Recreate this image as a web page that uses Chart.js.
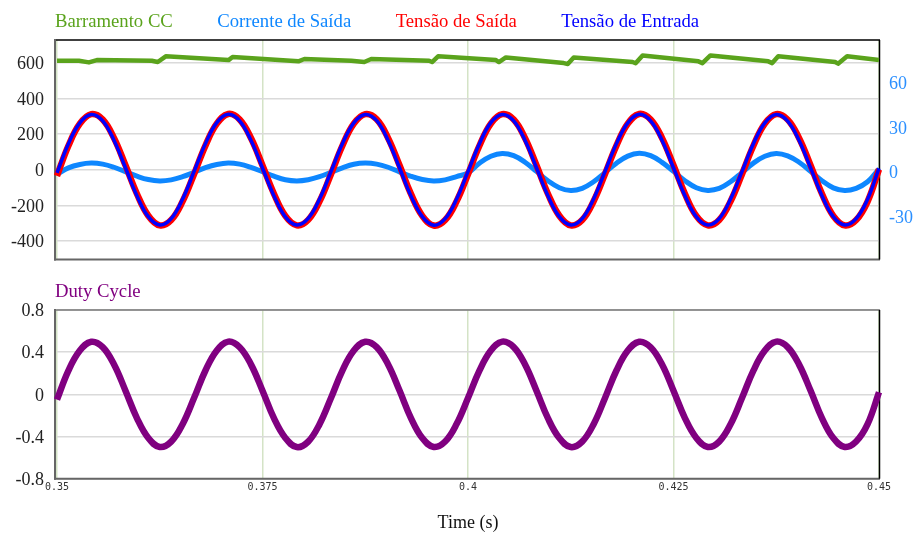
<!DOCTYPE html>
<html>
<head>
<meta charset="utf-8">
<title>Barramento CC / Duty Cycle</title>
<script src="https://cdn.jsdelivr.net/npm/chart.js"></script>
<style>
  body { margin: 0; background: #fff; }
  #wrap { position: relative; width: 917px; height: 534px; }
  canvas { position: absolute; left: 0; }
  #topChart { top: 0; }
  #bottomChart { top: 270px; }
</style>
</head>
<body>
<div id="wrap">
  <canvas id="topChart" width="917" height="270"></canvas>
  <canvas id="bottomChart" width="917" height="264"></canvas>
</div>
<script>
// sample instants (s), shared by the sine-like traces
const time = [
  0.35, 0.35139, 0.35278, 0.35417, 0.35556, 0.35694, 0.35833, 0.35972, 0.36111, 0.3625, 0.36389, 0.36528,
  0.36667, 0.36806, 0.36944, 0.37083, 0.37222, 0.37361, 0.375, 0.37639, 0.37778, 0.37917, 0.38056, 0.38194,
  0.38333, 0.38472, 0.38611, 0.3875, 0.38889, 0.39028, 0.39167, 0.39306, 0.39444, 0.39583, 0.39722, 0.39861,
  0.4, 0.40139, 0.40278, 0.40417, 0.40556, 0.40694, 0.40833, 0.40972, 0.41111, 0.4125, 0.41389, 0.41528,
  0.41667, 0.41806, 0.41944, 0.42083, 0.42222, 0.42361, 0.425, 0.42639, 0.42778, 0.42917, 0.43056, 0.43194,
  0.43333, 0.43472, 0.43611, 0.4375, 0.43889, 0.44028, 0.44167, 0.44306, 0.44444, 0.44583, 0.44722, 0.44861,
  0.45
];

// Tensão de Entrada (V)
const vin = [
  -18, 146, 264, 311, 275, 165, 11, -146, -264, -311, -275, -165,
  -11, 147, 265, 312, 275, 164, 10, -146, -265, -311, -274, -165,
  -11, 146, 264, 311, 276, 165, 11, -147, -264, -312, -275, -165,
  -11, 146, 265, 311, 275, 165, 11, -146, -264, -311, -275, -164,
  -10, 147, 264, 312, 275, 165, 11, -146, -265, -311, -275, -165,
  -11, 146, 264, 311, 274, 165, 12, -146, -264, -311, -275, -166,
  8
];

// Tensão de Saída (V)
const vout = [
  -34, 135, 259, 313, 283, 178, 25, -135, -259, -313, -283, -178,
  -25, 136, 259, 314, 283, 177, 24, -135, -260, -313, -282, -178,
  -25, 135, 259, 313, 284, 178, 25, -136, -259, -314, -283, -178,
  -25, 135, 260, 313, 283, 178, 25, -135, -259, -313, -283, -177,
  -24, 136, 259, 314, 283, 178, 25, -135, -260, -313, -283, -178,
  -25, 135, 259, 313, 282, 178, 26, -135, -259, -313, -283, -179,
  2
];

// Corrente de Saída (A), right axis
const iout = [
  -1.5, 2.8, 5.1, 6.0, 5.3, 3.2, 0.2, -2.8, -5.1, -6.0, -5.3, -3.2,
  -0.2, 2.9, 5.1, 6.1, 5.3, 3.1, 0.2, -2.8, -5.2, -6.0, -5.2, -3.2,
  -0.2, 2.8, 5.2, 6.0, 5.3, 3.2, 0.1, -2.9, -5.1, -6.1, -5.3, -3.1,
  -0.6, 5.9, 10.6, 12.5, 11.0, 6.6, 0.4, -5.9, -10.6, -12.5, -11.0, -6.6,
  -0.4, 5.9, 10.7, 12.6, 11.0, 6.5, 0.4, -5.9, -10.6, -12.4, -11.1, -6.6,
  -0.4, 6.0, 10.6, 12.5, 10.9, 6.6, 0.5, -5.9, -10.7, -12.5, -11.0, -6.6,
  2.0
];

// Duty Cycle
const duty = [
  -0.05, 0.225, 0.415, 0.499, 0.448, 0.283, 0.035, -0.225, -0.415, -0.499, -0.448, -0.283,
  -0.035, 0.226, 0.416, 0.5, 0.447, 0.282, 0.035, -0.226, -0.414, -0.5, -0.448, -0.283,
  -0.035, 0.225, 0.415, 0.499, 0.448, 0.283, 0.036, -0.225, -0.415, -0.499, -0.447, -0.282,
  -0.035, 0.225, 0.416, 0.5, 0.448, 0.283, 0.035, -0.226, -0.415, -0.5, -0.448, -0.283,
  -0.034, 0.226, 0.415, 0.499, 0.447, 0.283, 0.035, -0.225, -0.414, -0.499, -0.448, -0.284,
  -0.035, 0.225, 0.415, 0.5, 0.448, 0.282, 0.036, -0.225, -0.415, -0.499, -0.447, -0.283,
  0.02
];

// Barramento CC (V): breakpoints of the bus voltage ripple
const busTime = [
  0.35, 0.35267, 0.35388, 0.35485, 0.36153, 0.36226, 0.36323, 0.37087, 0.37136, 0.37937,
  0.3801, 0.3858, 0.38738, 0.38823, 0.39527, 0.39563, 0.39636, 0.4034, 0.40376, 0.40461,
  0.41165, 0.41214, 0.41286, 0.42002, 0.42039, 0.42124, 0.42803, 0.42852, 0.42949, 0.43653,
  0.43701, 0.43774, 0.44466, 0.44502, 0.44612, 0.45
];
const busVolts = [
  613, 613, 604, 617, 613, 606, 638, 617, 634, 610,
  623, 613, 606, 623, 613, 606, 638, 617, 606, 632,
  600, 595, 632, 606, 599, 643, 610, 600, 643, 610,
  600, 638, 606, 597, 638, 617
];

const xTicks = [0.35, 0.375, 0.4, 0.425, 0.45];
const xTickLabels = ["0.35", "0.375", "0.4", "0.425", "0.45"];
const voltTicks = [-400, -200, 0, 200, 400, 600];
const ampTicks = [-30, 0, 30, 60];
const dutyTicks = [-0.8, -0.4, 0, 0.4, 0.8];
const dutyTickLabels = ["-0.8", "-0.4", "0", "0.4", "0.8"];

const serif = "'Liberation Serif', 'Times New Roman', serif";
const mono = "'DejaVu Sans Mono', monospace";
const GREEN = "#5aa31c", CURRENT = "#0e87ff", RED = "#ff0000", BLUE = "#0000ff", PURPLE = "#800080";

const pts = (xs, ys) => xs.map((x, i) => ({ x: x, y: ys[i] }));

// frame around each panel, drawn under the traces
function panelFrame(topColor) {
  return {
    id: "panelFrame",
    beforeDatasetsDraw(chart) {
      const { ctx, chartArea: a } = chart;
      const line = (x1, y1, x2, y2, color, w) => {
        ctx.strokeStyle = color;
        ctx.lineWidth = w;
        ctx.beginPath();
        ctx.moveTo(x1, y1);
        ctx.lineTo(x2, y2);
        ctx.stroke();
      };
      ctx.save();
      line(a.left - 2, a.top, a.right + 1, a.top, topColor, 1.5);
      line(a.left - 2, a.top - 1, a.left - 2, a.bottom + 1, "#666", 2);
      line(a.left - 3, a.bottom, a.right + 1, a.bottom, "#666", 2);
      line(a.right + 0.5, a.top, a.right + 0.5, a.bottom, "#000", 1.5);
      ctx.restore();
    }
  };
}

// coloured series names above each panel (no legend boxes)
const panelLabels = {
  id: "panelLabels",
  afterDraw(chart) {
    const { ctx, chartArea: a } = chart;
    ctx.save();
    ctx.font = "18.7px " + serif;
    ctx.textBaseline = "alphabetic";
    let x = a.left - 2;
    chart.data.datasets.forEach(ds => {
      ctx.fillStyle = ds.borderColor;
      ctx.fillText(ds.label, x, a.top - 13);
      x += ctx.measureText(ds.label).width + 44.5;
    });
    ctx.restore();
  }
};

const lineDefaults = { pointRadius: 0, tension: 0.4, fill: false, clip: 6, borderJoinStyle: "round" };

// y axes: fixed width, and no extra padding reserved for the end labels
const fixY = (width) => (s) => {
  s.width = width;
  s.paddingTop = 0;
  s.paddingBottom = 0;
};

const xScale = (withLabels) => ({
  type: "linear",
  min: 0.35,
  max: 0.45,
  afterBuildTicks: s => { s.ticks = xTicks.map(v => ({ value: v })); },
  afterFit: s => { s.height = withLabels ? 55.3 : 10.5; },
  grid: { color: "#d4e3c6", lineWidth: 1.5, drawTicks: false },
  border: { display: false },
  ticks: {
    display: withLabels,
    padding: 3,
    color: "#333",
    font: { family: mono, size: 10 },
    maxRotation: 0,
    callback: (v, i) => xTickLabels[i]
  },
  title: {
    display: withLabels,
    text: "Time (s)",
    color: "#111",
    font: { family: serif, size: 18 },
    padding: 0
  }
});

const yTickFont = { family: serif, size: 18 };

new Chart(document.getElementById("topChart"), {
  type: "line",
  data: {
    datasets: [
      { ...lineDefaults, label: "Barramento CC", data: pts(busTime, busVolts), borderColor: GREEN, borderWidth: 4.5, tension: 0, yAxisID: "yV", order: 3 },
      { ...lineDefaults, label: "Corrente de Saída", data: pts(time, iout), borderColor: CURRENT, borderWidth: 5, yAxisID: "yA", order: 2 },
      { ...lineDefaults, label: "Tensão de Saída", data: pts(time, vout), borderColor: RED, borderWidth: 6.5, yAxisID: "yV", order: 1 },
      { ...lineDefaults, label: "Tensão de Entrada", data: pts(time, vin), borderColor: BLUE, borderWidth: 3.5, yAxisID: "yV", order: 0 }
    ]
  },
  options: {
    responsive: false,
    animation: false,
    devicePixelRatio: 1,
    layout: { padding: { top: 40, left: 0, right: 0, bottom: 0 } },
    plugins: { legend: { display: false }, tooltip: { enabled: false } },
    scales: {
      x: xScale(false),
      yV: {
        position: "left",
        min: -505,
        max: 730,
        afterBuildTicks: s => { s.ticks = voltTicks.map(v => ({ value: v })); },
        afterFit: fixY(57),
        grid: { color: "#dadada", lineWidth: 1.5, drawTicks: false },
        border: { display: false },
        ticks: { padding: 13, labelOffset: 1.5, color: "#222", font: yTickFont, callback: v => String(v) }
      },
      yA: {
        position: "right",
        min: -59,
        max: 89,
        afterBuildTicks: s => { s.ticks = ampTicks.map(v => ({ value: v })); },
        afterFit: fixY(38),
        grid: { display: false, drawTicks: false },
        border: { display: false },
        ticks: { padding: 10, labelOffset: 1.5, color: "#2a8fff", font: yTickFont, callback: v => String(v) }
      }
    }
  },
  plugins: [panelFrame("#000"), panelLabels]
});

new Chart(document.getElementById("bottomChart"), {
  type: "line",
  data: {
    datasets: [
      { ...lineDefaults, label: "Duty Cycle", data: pts(time, duty), borderColor: PURPLE, borderWidth: 6.5, yAxisID: "y" }
    ]
  },
  options: {
    responsive: false,
    animation: false,
    devicePixelRatio: 1,
    layout: { padding: { top: 40, left: 0, right: 38, bottom: 0 } },
    plugins: { legend: { display: false }, tooltip: { enabled: false } },
    scales: {
      x: xScale(true),
      y: {
        position: "left",
        min: -0.8,
        max: 0.8,
        afterBuildTicks: s => { s.ticks = dutyTicks.map(v => ({ value: v })); },
        afterFit: fixY(57),
        grid: { color: "#dadada", lineWidth: 1.5, drawTicks: false },
        border: { display: false },
        ticks: { padding: 13, labelOffset: 1.5, color: "#222", font: yTickFont, callback: (v, i) => dutyTickLabels[i] }
      }
    }
  },
  plugins: [panelFrame("#777"), panelLabels]
});
</script>
</body>
</html>
